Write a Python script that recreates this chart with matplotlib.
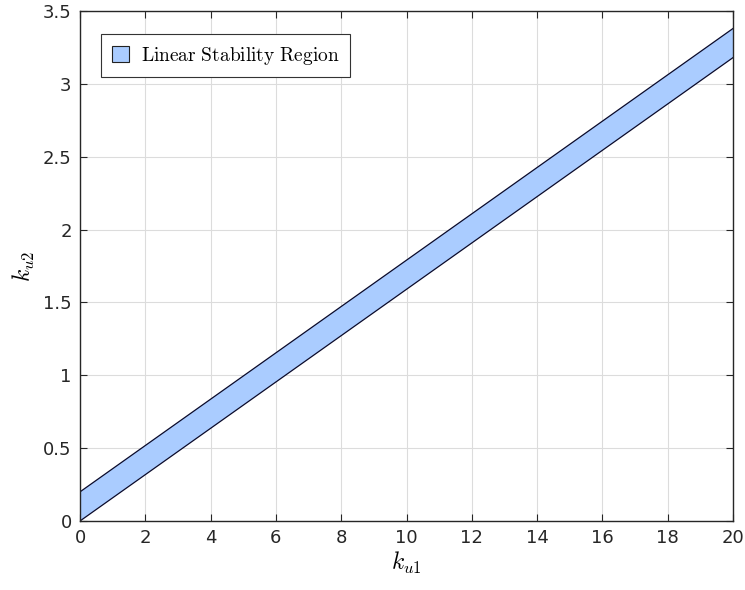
import numpy as np
import matplotlib.pyplot as plt

plt.rcParams['mathtext.fontset'] = 'cm'
plt.rcParams['font.family'] = 'DejaVu Sans'

# band edges
ku1 = np.array([0, 20])
lower = np.array([0.0, 3.18])
upper = np.array([0.2, 3.38])

xticks = [0, 2, 4, 6, 8, 10, 12, 14, 16, 18, 20]
yticks = [0, 0.5, 1, 1.5, 2, 2.5, 3, 3.5]
ytick_labels = ['0', '0.5', '1', '1.5', '2', '2.5', '3', '3.5']

fig = plt.figure(figsize=(7.45, 5.9), dpi=100)
ax = fig.add_axes([80 / 745, 69 / 590, 653 / 745, 510 / 590])

ax.fill_between(ku1, lower, upper, facecolor='#aaccff', edgecolor='none')
ax.plot(ku1, lower, color='#0a0a2a', lw=0.9)
ax.plot(ku1, upper, color='#0a0a2a', lw=0.9)

ax.set_xlim(0, 20)
ax.set_ylim(0, 3.5)
ax.set_xticks(xticks)
ax.set_yticks(yticks)
ax.set_yticklabels(ytick_labels)
ax.grid(True, color='#dcdcdc', lw=0.8)
ax.set_axisbelow(True)

for s in ax.spines.values():
    s.set_color('#262626')
    s.set_linewidth(1.0)
ax.tick_params(direction='in', top=True, right=True, length=5,
               colors='#262626', labelsize=13, pad=6)

ax.set_xlabel('$k_{u1}$', fontsize=17, labelpad=2)
ax.set_ylabel('$k_{u2}$', fontsize=17, labelpad=4)

leg = ax.legend(handles=[plt.Rectangle((0, 0), 1, 1, facecolor='#aaccff', edgecolor='#222222', lw=0.8)],
                labels=['$\\mathrm{Linear\\ Stability\\ Region}$'],
                loc='upper left', bbox_to_anchor=(0.032, 0.955), borderaxespad=0,
                fontsize=14, fancybox=False, edgecolor='#333333', framealpha=1,
                handlelength=0.9, handleheight=0.9, borderpad=0.55, handletextpad=0.6)
leg.get_frame().set_linewidth(0.8)

fig.savefig('out.png', dpi=100)
